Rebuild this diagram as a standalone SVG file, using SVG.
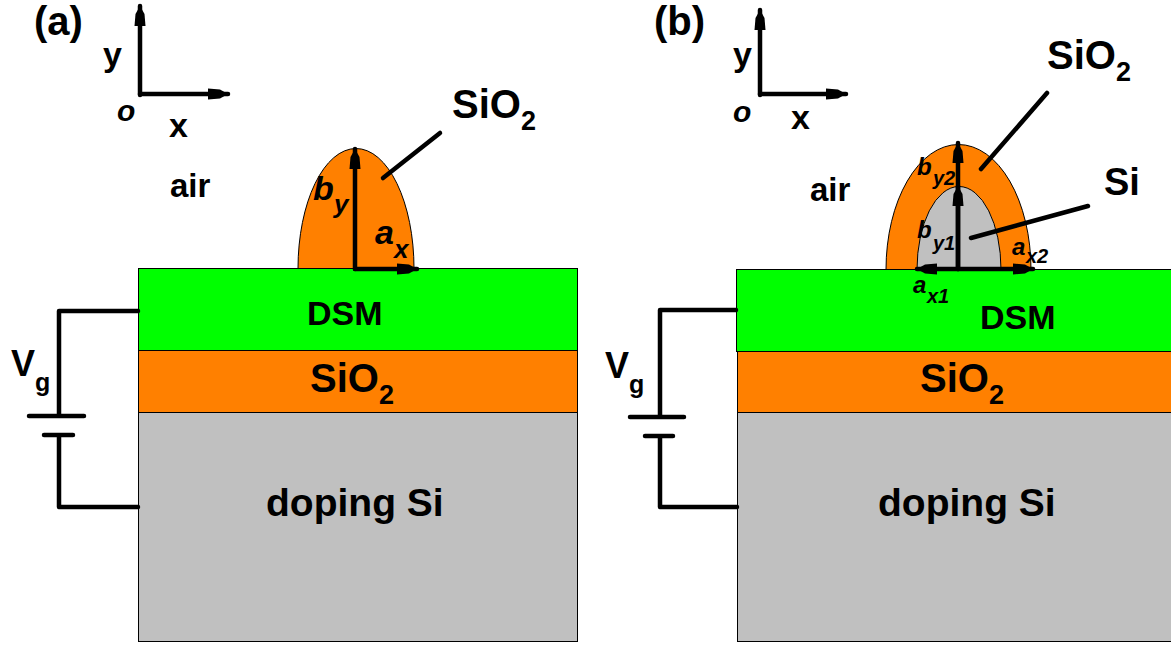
<svg xmlns="http://www.w3.org/2000/svg" width="1171" height="646" viewBox="0 0 1171 646">
<style>
text{font-family:"Liberation Sans",Arial,sans-serif;font-weight:bold;fill:#000}
.i{font-style:italic}
.w{fill:none;stroke:#000;stroke-width:4.500;stroke-linecap:round;stroke-linejoin:round}
.a{fill:none;stroke:#000;stroke-width:4.500;stroke-linecap:round;marker-end:url(#h)}
.l{stroke:#000;stroke-width:1}
</style>
<defs>
<marker id="h" markerUnits="userSpaceOnUse" markerWidth="22" markerHeight="12" refX="20" refY="6" orient="auto" viewBox="0 0 22 12"><path d="M0 0.500L12 1.500L20 6L12 10.500L0 11.500Z" fill="#000"/></marker>
</defs>
<g id="panel-a-layers">
<rect id="a-dsm" class="l" x="138.500" y="268.500" width="439" height="82" fill="#00ff00"/>
<rect id="a-sio2" class="l" x="138.500" y="350.500" width="439" height="62" fill="#ff8000"/>
<rect id="a-si" class="l" x="138.500" y="412.500" width="439" height="229" fill="#c0c0c0"/>
<path id="a-dome" class="l" d="M298 268.500A58 120 0 0 1 414 268.500Z" fill="#ff8000"/>
</g>
<g id="panel-b-layers">
<rect id="b-dsm" class="l" x="736.500" y="269.500" width="440" height="82" fill="#00ff00"/>
<rect id="b-sio2" class="l" x="737.500" y="351.500" width="440" height="61" fill="#ff8000"/>
<rect id="b-si" class="l" x="737.500" y="412.500" width="440" height="229" fill="#c0c0c0"/>
<path id="b-dome-outer" class="l" d="M886 269.500A72.500 125 0 0 1 1031 269.500Z" fill="#ff8000"/>
<path id="b-dome-inner" class="l" d="M917 269.500A42 83 0 0 1 1001 269.500Z" fill="#c0c0c0"/>
</g>
<g id="connectors">
<path class="a" d="M140 95V6"/>
<path class="a" d="M140 94H228"/>
<path class="a" d="M760 95V10"/>
<path class="a" d="M760 94H846"/>
<path class="a" d="M355 269V149"/>
<path class="a" d="M355 269H417"/>
<path class="w" d="M383 178L440 133"/>
<path class="a" d="M958 269V143"/>
<path class="a" d="M958 269V186"/>
<path class="a" d="M958 269H917"/>
<path class="a" d="M958 269H1033"/>
<path class="w" d="M981 169L1047 93"/>
<path class="w" d="M971 238L1088 206"/>
<path class="w" d="M138 311H59V416M29 416H84M44 435H73M59 435V507H138"/>
<path class="w" d="M736 310H660V417M630 417H684M645 436H673M660 436V507H737"/>
</g>
<g id="labels">
<text x="34" y="35" font-size="40">(a)</text>
<text x="654" y="35" font-size="40">(b)</text>
<text x="103" y="66" font-size="34">y</text>
<text x="169" y="137" font-size="34">x</text>
<text class="i" x="117" y="121" font-size="30">o</text>
<text x="733" y="66" font-size="34">y</text>
<text x="791" y="129" font-size="34">x</text>
<text class="i" x="733" y="122" font-size="30">o</text>
<text x="170" y="197" font-size="33">air</text>
<text x="810" y="201" font-size="33">air</text>
<text x="452" y="118" font-size="40">SiO<tspan font-size="27" dy="12">2</tspan></text>
<text x="1047" y="69" font-size="40">SiO<tspan font-size="27" dy="12">2</tspan></text>
<text x="1104" y="195" font-size="38">Si</text>
<text class="i" x="313" y="200" font-size="34">b</text>
<text class="i" x="334" y="213" font-size="26">y</text>
<text class="i" x="375" y="244" font-size="34">a</text>
<text class="i" x="394" y="258" font-size="26">x</text>
<text class="i" x="917" y="175" font-size="24">b</text>
<text class="i" x="933" y="185" font-size="20">y2</text>
<text class="i" x="917" y="238" font-size="24">b</text>
<text class="i" x="933" y="250" font-size="20">y1</text>
<text class="i" x="1012" y="255" font-size="24">a</text>
<text class="i" x="1026" y="263" font-size="20">x2</text>
<text class="i" x="913" y="293" font-size="24">a</text>
<text class="i" x="927" y="303" font-size="20">x1</text>
<text x="307" y="325" font-size="34">DSM</text>
<text x="980" y="329" font-size="34">DSM</text>
<text x="310" y="392" font-size="40">SiO<tspan font-size="27" dy="12">2</tspan></text>
<text x="920" y="392" font-size="40">SiO<tspan font-size="27" dy="12">2</tspan></text>
<text x="266" y="516" font-size="39">doping Si</text>
<text x="878" y="516" font-size="39">doping Si</text>
<text x="11" y="376" font-size="36">V</text>
<text x="35" y="391" font-size="25">g</text>
<text x="605" y="378" font-size="36">V</text>
<text x="629" y="393" font-size="25">g</text>
</g>
</svg>
